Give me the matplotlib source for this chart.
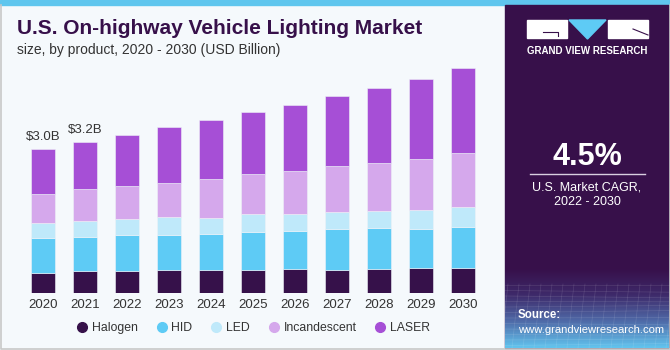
import numpy as np
import matplotlib
matplotlib.use('Agg')
import matplotlib.pyplot as plt
from matplotlib.lines import Line2D
from matplotlib.patches import Rectangle, Polygon
from matplotlib.colors import LinearSegmentedColormap

plt.rcParams['font.family'] = ['Liberation Sans', 'DejaVu Sans']

# data (USD billion)
years = ['2020', '2021', '2022', '2023', '2024', '2025', '2026', '2027', '2028', '2029', '2030']
halogen = [0.43, 0.46, 0.46, 0.49, 0.49, 0.49, 0.51, 0.49, 0.51, 0.53, 0.53]
hid = [0.72, 0.72, 0.75, 0.72, 0.74, 0.78, 0.79, 0.85, 0.84, 0.81, 0.84]
led = [0.31, 0.33, 0.33, 0.37, 0.34, 0.37, 0.35, 0.34, 0.36, 0.39, 0.42]
incandescent = [0.61, 0.65, 0.69, 0.72, 0.80, 0.83, 0.90, 0.96, 1.00, 1.07, 1.12]
laser = [0.94, 0.99, 1.06, 1.15, 1.23, 1.29, 1.37, 1.46, 1.55, 1.66, 1.77]
series_names = ['Halogen', 'HID', 'LED', 'Incandescent', 'LASER']
series_colors = ['#36114a', '#5ecbf5', '#bfe9fa', '#d5a8ec', '#a64fd6']
top_labels = {0: '$3.0B', 1: '$3.2B'}

W, H = 670, 350
fig = plt.figure(figsize=(W / 100, H / 100), dpi=100)

# background layer in pixel coordinates
bg = fig.add_axes([0, 0, 1, 1])
bg.set_xlim(0, W)
bg.set_ylim(H, 0)
bg.axis('off')
bg.add_patch(Rectangle((0, 0), W, H, color='#f5f9fc'))
bg.add_patch(Rectangle((0, 0), W, 5, color='#5fc6ee'))
bg.plot([0.5, 0.5, W - 0.5, W - 0.5], [5, H - 1.5, H - 1.5, 5], color='#c8c8c8', lw=1.2)

# right panel
bg.add_patch(Rectangle((505, 5), W - 506, H - 7, color='#37104a'))
cmap = LinearSegmentedColormap.from_list('g', ['#37104a', '#3e2a6a', '#4f6aa8', '#62c4ee'])
grad = np.linspace(0, 1, 100).reshape(-1, 1)
bg.imshow(grad, cmap=cmap, extent=(505, W - 1, H - 2, 268), aspect='auto', zorder=1)
for k in range(12):
    yy = 285 + k * 5.5
    bg.plot([505, W - 1], [yy, yy + 2 * np.sin(k)], color='white', alpha=0.12, lw=0.5, zorder=2)
for k in range(16):
    xx = 505 + k * 11
    bg.plot([xx + 3, xx - 4], [284, H - 2], color='white', alpha=0.12, lw=0.5, zorder=2)

# logo
bg.add_patch(Rectangle((527, 20), 40, 18, color='white', zorder=3))
bg.plot([543, 558, 558], [32, 32, 36], color='#37104a', lw=0.8, zorder=4)
bg.add_patch(Polygon([(569, 20), (606, 20), (587.5, 39)], color='#5ecbf5', zorder=3))
bg.add_patch(Rectangle((608, 20), 40, 18, color='white', zorder=3))
bg.plot([633, 648], [29, 35], color='#37104a', lw=0.8, zorder=4)
bg.text(587.5, 51, 'GRAND VIEW RESEARCH', color='white', fontsize=7, fontweight='bold',
        ha='center', va='center', zorder=4)

bg.text(587, 157, '4.5%', color='white', fontsize=22, fontweight='bold', ha='center', va='center', zorder=4)
bg.plot([530, 645], [173.5, 173.5], color='#d8cfe0', lw=1, zorder=4)
bg.text(587, 187, 'U.S. Market CAGR,', color='white', fontsize=9, ha='center', va='center', zorder=4)
bg.text(587, 202, '2022 - 2030', color='white', fontsize=9, ha='center', va='center', zorder=4)
bg.text(518, 315, 'Source:', color='white', fontsize=8.3, fontweight='bold', ha='left', va='center', zorder=4)
bg.text(518, 330, 'www.grandviewresearch.com', color='white', fontsize=8.1, ha='left', va='center', zorder=4)

# titles
bg.text(17, 29, 'U.S. On-highway Vehicle Lighting Market', color='#37104a', fontsize=15,
        fontweight='bold', ha='left', va='center')
bg.text(17, 50, 'size, by product, 2020 - 2030 (USD Billion)', color='#333333', fontsize=10,
        ha='left', va='center')

# bar chart
x0, step, base, ppu = 43, 42, 293.3, 48.1
xl, xr = -0.8, 10.8
ytop = 5.0
ax = fig.add_axes([(x0 + xl * step) / W, (H - base) / H,
                   (xr - xl) * step / W, ytop * ppu / H])
ax.set_xlim(xl, xr)
ax.set_ylim(0, ytop)
ax.patch.set_alpha(0)
for s in ax.spines.values():
    s.set_visible(False)
ax.set_yticks([])

x = np.arange(len(years))
bottom = np.zeros(len(years))
for vals, name, col in zip([halogen, hid, led, incandescent, laser], series_names, series_colors):
    ax.bar(x, vals, width=0.57, bottom=bottom, color=col, edgecolor='#eef2f8', linewidth=0.4, label=name)
    bottom += np.array(vals)

for i, txt in top_labels.items():
    ax.annotate(txt, (x[i], bottom[i]), xytext=(0, 4), textcoords='offset points',
                ha='center', va='bottom', fontsize=9.5, color='#333333')

ax.set_xticks(x)
ax.set_xticklabels(years, fontsize=9.5, color='#333333')
ax.tick_params(axis='x', length=0, pad=4)

handles = [Line2D([], [], marker='o', ls='', color=c, markersize=7) for c in series_colors]
fig.legend(handles, series_names, loc='center', bbox_to_anchor=(253 / W, (H - 328) / H),
           ncol=5, frameon=False, fontsize=8.8, handletextpad=0.3, columnspacing=1.45,
           handlelength=1.0, labelcolor='#333333')

fig.savefig('out.png', dpi=100)
